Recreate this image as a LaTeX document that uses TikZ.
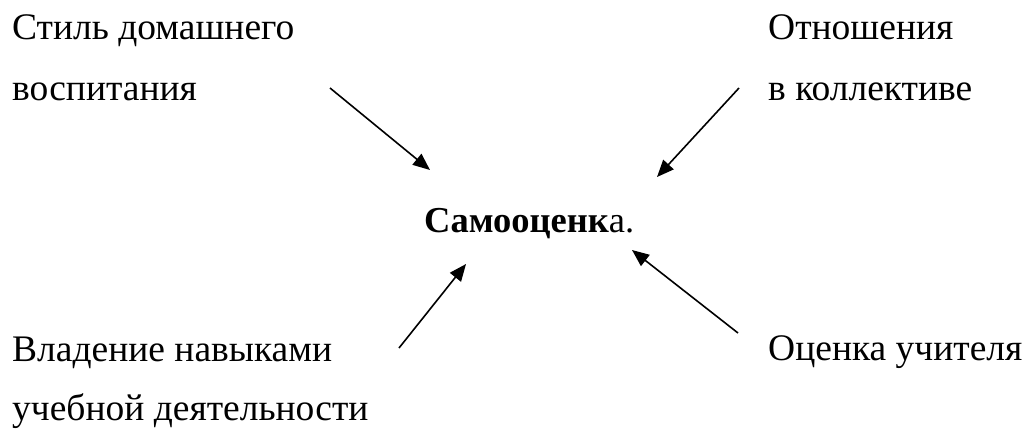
\documentclass[tikz,border=0pt]{standalone}
\usepackage{fontspec}
\setmainfont{Liberation Serif}
\usetikzlibrary{arrows.meta}
\begin{document}
\begin{tikzpicture}[x=1pt,y=-1pt,
  lbl/.style={anchor=base west,inner sep=0pt,font=\fontsize{37.5}{44}\selectfont},
  arr/.style={line width=1.6pt,-{Triangle[length=17pt,width=14pt]}}]
\useasboundingbox[fill=white] (0,0) rectangle (1024,432);
\node[lbl] (a1) at (12,39) {Стиль домашнего};
\node[lbl] (a2) at (12,100) {воспитания};
\node[lbl] (b1) at (768,39) {Отношения};
\node[lbl] (b2) at (768,100) {в коллективе};
\node[lbl,font=\fontsize{36.5}{44}\selectfont] (c) at (424,232) {\textbf{Самооценк}а.};
\node[lbl] (d1) at (12,361) {Владение навыками};
\node[lbl] (d2) at (12,420) {учебной деятельности};
\node[lbl] (e1) at (768,360) {Оценка учителя};
\coordinate (s1) at (330,88);
\coordinate (t1) at (430,170);
\coordinate (s2) at (739,88);
\coordinate (t2) at (657,177);
\coordinate (s3) at (399,348);
\coordinate (t3) at (466,264);
\coordinate (s4) at (738,333);
\coordinate (t4) at (632,250);
\draw[arr] (s1) -- (t1);
\draw[arr] (s2) -- (t2);
\draw[arr] (s3) -- (t3);
\draw[arr] (s4) -- (t4);
\end{tikzpicture}
\end{document}
